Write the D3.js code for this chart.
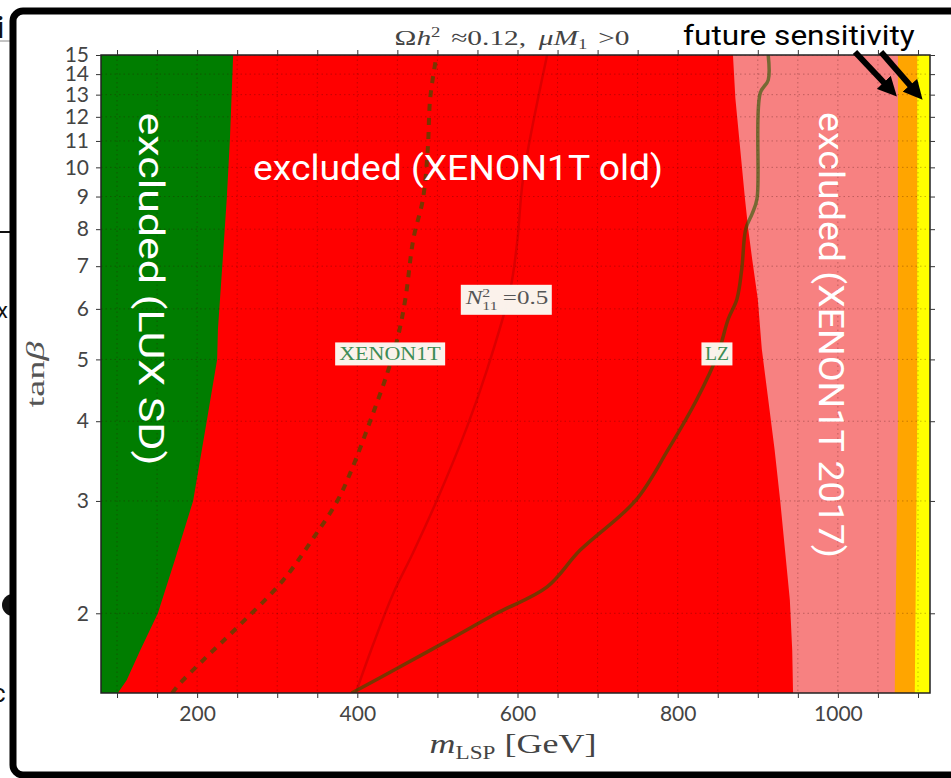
<!DOCTYPE html>
<html>
<head>
<meta charset="utf-8">
<script src="https://cdn.jsdelivr.net/npm/d3@7/dist/d3.min.js"></script>
<style>
  body { margin: 0; background: #fff; }
  svg { display: block; }
</style>
</head>
<body>
<svg id="chart" width="951" height="778"></svg>
<script>
// Parameter plane: LSP mass (GeV) vs tan(beta), log scale in tan(beta)
const xDomain = [80, 1115];
const yDomain = [1.5, 15];
const xTicks = d3.range(100, 1101, 50);
const xTickLabels = [200, 400, 600, 800, 1000];
const yTicks = [2, 3, 4, 5, 6, 7, 8, 9, 10, 11, 12, 13, 14, 15];

// Exclusion boundaries: mass reached at a given tan(beta)
const luxTan  = [1.5, 1.57, 1.75, 2, 2.42, 3, 4, 5, 5.58, 7.18, 8.93, 11.1, 15];
const luxMass = [101, 112, 129, 151, 172, 195, 212, 225, 226, 232, 237, 241, 245];

const xe17Tan  = [1.5, 1.75, 2.1, 2.51, 3.0, 3.61, 4.33, 5.19, 6.22, 7.18, 8.01, 8.93, 10.7, 12.83, 15];
const xe17Mass = [944, 943, 940, 934, 928, 921, 913, 905, 900, 893, 888, 884, 878, 872, 869];

const futOrangeTan  = [1.5, 4, 15];
const futOrangeMass = [1071, 1075, 1075];
const futYellowTan  = [1.5, 4, 15];
const futYellowMass = [1096, 1099, 1099];

// Sensitivity curves
const xe1tTan  = [1.5, 1.54, 1.71, 1.90, 2.25, 2.6, 3.0, 3.36, 4.0, 4.74, 5.38, 6.22, 7.72, 8.93, 10.7, 12.83, 15];
const xe1tMass = [169, 176, 212, 250, 307, 343, 375, 393, 416, 437, 450, 460, 470, 482, 488, 491, 499];

const n11Tan  = [1.5, 1.79, 2.15, 2.48, 3.0, 3.92, 4.82, 6.44, 7.72, 9.6, 15];
const n11Mass = [398, 420, 445, 469, 499, 537, 562, 591, 600, 607, 637];

const lzTan  = [1.5, 1.64, 1.81, 2.0, 2.20, 2.51, 3.0, 3.61, 4.33, 5.09, 5.78, 6.22, 6.93, 8.01, 8.46, 8.93, 13.07, 13.7, 15];
const lzMass = [393, 450, 512, 574, 637, 678, 747, 788, 824, 850, 863, 874, 880, 885, 893, 899, 903, 913, 913];

const zip = (t, m) => t.map((v, i) => ({t: v, m: m[i]}));

const svg = d3.select("#chart");
const plot = {left: 101, right: 930, top: 55, bottom: 693};

// Places a text centred on (cx, cy), rotated by rot and stretched along its run to `len` pixels
function placeText(parent, cx, cy, rot, len, attrs, build) {
  const t = parent.append("text").attr("x", 0).attr("y", 0).attr("text-anchor", "middle");
  Object.entries(attrs).forEach(([k, v]) => t.attr(k, v));
  build(t);
  const bb = t.node().getBBox();
  const s = len ? len / bb.width : 1;
  const bx = bb.x + bb.width / 2, by = bb.y + bb.height / 2;
  t.attr("transform", `translate(${cx},${cy}) rotate(${rot}) scale(${s},1) translate(${-bx},${-by})`);
  return t;
}

// Slide fragments on the left edge, behind the frame
const frag = svg.append("g");
frag.append("text").attr("x", -4).attr("y", 38).attr("font-family", "Roboto, sans-serif")
  .attr("font-weight", "bold").attr("font-size", 30).attr("fill", "#111").text("i");
frag.append("line").attr("x1", 0).attr("x2", 14).attr("y1", 41).attr("y2", 41).attr("stroke", "#888").attr("stroke-width", 1);
frag.append("line").attr("x1", 0).attr("x2", 14).attr("y1", 232).attr("y2", 232).attr("stroke", "#111").attr("stroke-width", 2);
frag.append("text").attr("x", -3).attr("y", 318).attr("font-family", "Roboto, sans-serif")
  .attr("font-size", 22).attr("fill", "#111").text("x");
frag.append("circle").attr("cx", 13).attr("cy", 605).attr("r", 11).attr("fill", "#111");
frag.append("text").attr("x", -8).attr("y", 702).attr("font-family", "Roboto, sans-serif")
  .attr("font-size", 26).attr("fill", "#111").text("c");

// Outer frame
svg.append("rect").attr("x", 13).attr("y", 11).attr("width", 970).attr("height", 764)
  .attr("rx", 10).attr("fill", "#fff").attr("stroke", "#000").attr("stroke-width", 7);

const x = d3.scaleLinear().domain(xDomain).range([plot.left, plot.right]);
const y = d3.scaleLog().domain(yDomain).range([plot.bottom, plot.top]);

const g = svg.append("g");
svg.append("clipPath").attr("id", "plotclip").append("rect")
  .attr("x", plot.left).attr("y", plot.top)
  .attr("width", plot.right - plot.left).attr("height", plot.bottom - plot.top);

const fills = g.append("g").attr("clip-path", "url(#plotclip)");
const region = d3.area()
  .y(d => y(d.t))
  .x0(x(xDomain[0]))
  .x1(d => x(d.m))
  .curve(d3.curveLinear);

// Bands painted from the right-most one inwards
const full = [{t: yDomain[0], m: xDomain[1]}, {t: yDomain[1], m: xDomain[1]}];
fills.append("path").attr("d", region(full)).attr("fill", "#ffff00");
fills.append("path").attr("d", region(zip(futYellowTan, futYellowMass))).attr("fill", "#ffa500");
fills.append("path").attr("d", region(zip(futOrangeTan, futOrangeMass))).attr("fill", "#f78181");
fills.append("path").attr("d", region(zip(xe17Tan, xe17Mass))).attr("fill", "#ff0000");
fills.append("path").attr("d", region(zip(luxTan, luxMass))).attr("fill", "#007d00");

// Dotted grid
const grid = g.append("g").attr("clip-path", "url(#plotclip)")
  .attr("stroke", "#300").attr("stroke-opacity", 0.28).attr("stroke-width", 1)
  .attr("stroke-dasharray", "1.5,3");
grid.selectAll("line.h").data(yTicks).join("line").attr("class", "h")
  .attr("x1", plot.left).attr("x2", plot.right)
  .attr("y1", d => y(d)).attr("y2", d => y(d));
grid.selectAll("line.v").data(xTicks).join("line").attr("class", "v")
  .attr("y1", plot.top).attr("y2", plot.bottom)
  .attr("x1", d => x(d)).attr("x2", d => x(d));

// Curves
const curve = d3.line().x(d => x(d.m)).y(d => y(d.t)).curve(d3.curveCatmullRom.alpha(0.5));
const lines = g.append("g").attr("clip-path", "url(#plotclip)").attr("fill", "none");
lines.append("path").attr("d", curve(zip(n11Tan, n11Mass)))
  .attr("stroke", "#8a0000").attr("stroke-opacity", 0.3).attr("stroke-width", 2.5);
lines.append("path").attr("d", curve(zip(xe1tTan, xe1tMass)))
  .attr("stroke", "#1f5a00").attr("stroke-opacity", 0.6).attr("stroke-width", 4)
  .attr("stroke-dasharray", "7,7");
lines.append("path").attr("d", curve(zip(lzTan, lzMass)))
  .attr("stroke", "#1f5a00").attr("stroke-opacity", 0.6).attr("stroke-width", 3.5);

// Spines
g.append("rect").attr("x", plot.left).attr("y", plot.top)
  .attr("width", plot.right - plot.left).attr("height", plot.bottom - plot.top)
  .attr("fill", "none").attr("stroke", "#222").attr("stroke-width", 1.5);

// Axes
const tickFont = "Lato, 'Open Sans', sans-serif";
const styleAxis = sel => {
  sel.select(".domain").remove();
  sel.selectAll(".tick line").attr("stroke", "#333");
  sel.selectAll(".tick text").attr("fill", "#444").attr("font-family", tickFont).attr("font-size", 21);
};
g.append("g").attr("transform", `translate(${plot.left},0)`)
  .call(d3.axisLeft(y).tickValues(yTicks).tickFormat(d3.format("d")).tickSize(5).tickPadding(7))
  .call(styleAxis);
g.append("g").attr("transform", `translate(${plot.right},0)`)
  .call(d3.axisRight(y).tickValues(yTicks).tickFormat("").tickSize(5))
  .call(styleAxis);
g.append("g").attr("transform", `translate(0,${plot.top})`)
  .call(d3.axisTop(x).tickValues(xTicks).tickFormat("").tickSize(5))
  .call(styleAxis);
g.append("g").attr("transform", `translate(0,${plot.bottom})`)
  .call(d3.axisBottom(x).tickValues(xTicks)
    .tickFormat(d => xTickLabels.includes(d) ? d : "").tickSize(5).tickPadding(8))
  .call(styleAxis);

// Axis titles and plot title
const serif = "'Liberation Serif', 'DejaVu Serif', serif";
placeText(svg, 35, 374, -90, 67, {"font-family": serif, "font-size": 25, "fill": "#555"}, t => {
  t.append("tspan").text("tan");
  t.append("tspan").attr("font-style", "italic").text("β");
});
placeText(svg, 513, 745, 0, 167, {"font-family": serif, "font-size": 28, "fill": "#444"}, t => {
  t.append("tspan").attr("font-style", "italic").text("m");
  t.append("tspan").attr("font-size", 18).attr("dy", 6).text("LSP");
  t.append("tspan").attr("dy", -6).text(" [GeV]");
});
placeText(svg, 512, 38, 0, 235, {"font-family": serif, "font-size": 22, "fill": "#444"}, t => {
  t.append("tspan").text("Ω");
  t.append("tspan").attr("font-style", "italic").text("h");
  t.append("tspan").attr("font-size", 14).attr("dy", -8).text("2");
  t.append("tspan").attr("dy", 8).attr("dx", 8).text("≈0.12, ");
  t.append("tspan").attr("font-style", "italic").attr("dx", 4).text("μM");
  t.append("tspan").attr("font-size", 14).attr("dy", 4).text("1");
  t.append("tspan").attr("dy", -4).attr("dx", 8).text(">0");
});

// Curve labels on white boxes
function boxedLabel(mass, tb, len, boxW, boxH, color, build) {
  const grp = svg.append("g");
  const cx = x(mass), cy = y(tb);
  grp.append("rect").attr("x", cx - boxW / 2).attr("y", cy - boxH / 2)
    .attr("width", boxW).attr("height", boxH)
    .attr("fill", "#fbfff8").attr("fill-opacity", 0.95);
  placeText(grp, cx, cy, 0, len, {"font-family": serif, "font-size": 19, "fill": color}, build);
}
boxedLabel(441, 5.1, 102, 110, 23, "#3d8c55", t => t.text("XENON1T"));
boxedLabel(586, 6.2, 84, 91, 30, "#555", t => {
  t.append("tspan").attr("font-style", "italic").text("N");
  t.append("tspan").attr("font-size", 12).attr("dy", -7).text("2");
  t.append("tspan").attr("font-size", 12).attr("dx", -6).attr("dy", 13).text("11");
  t.append("tspan").attr("dy", -6).attr("dx", 4).text("=0.5");
});
boxedLabel(849, 5.1, 24, 31, 23, "#3d8c55", t => t.text("LZ"));

// Region annotations
const sans = "Roboto, 'Open Sans', sans-serif";
placeText(svg, 458, 168, 0, 410, {"font-family": sans, "font-size": 36, "fill": "#fff"},
  t => t.text("excluded (XENON1T old)"));
placeText(svg, 151, 289, 90, 353, {"font-family": sans, "font-size": 36, "fill": "#fff"},
  t => t.text("excluded (LUX SD)"));
placeText(svg, 831, 335, 90, 446, {"font-family": sans, "font-size": 36, "fill": "#fff"},
  t => t.text("excluded (XENON1T 2017)"));
placeText(svg, 799, 36, 0, 232, {"font-family": sans, "font-size": 27, "fill": "#000"},
  t => t.text("future sensitivity"));

// Arrows pointing at the future-sensitivity bands
svg.append("defs").append("marker").attr("id", "head").attr("viewBox", "0 0 10 10")
  .attr("refX", 4).attr("refY", 5).attr("markerWidth", 3.2).attr("markerHeight", 3.2)
  .attr("orient", "auto")
  .append("path").attr("d", "M0,0 L10,5 L0,10 Z").attr("fill", "#000");
const arrows = [[855, 52, 889, 88], [881, 52, 915, 91]];
svg.selectAll("line.arrow").data(arrows).join("line").attr("class", "arrow")
  .attr("x1", d => d[0]).attr("y1", d => d[1]).attr("x2", d => d[2]).attr("y2", d => d[3])
  .attr("stroke", "#000").attr("stroke-width", 6).attr("marker-end", "url(#head)");
</script>
</body>
</html>
